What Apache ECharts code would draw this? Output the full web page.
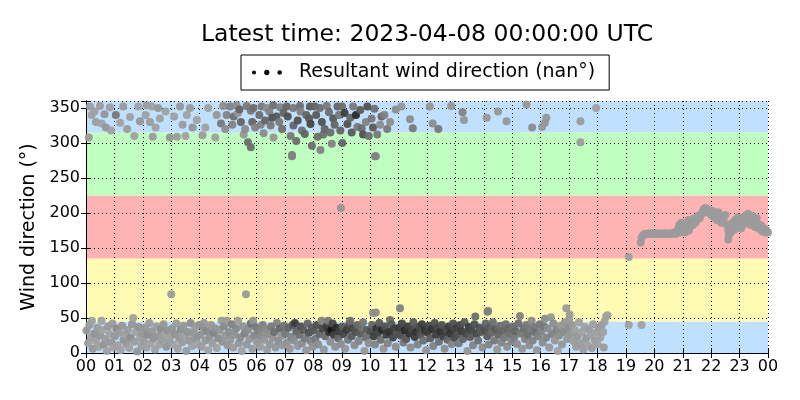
<!DOCTYPE html>
<html><head><meta charset="utf-8">
<script src="https://cdn.jsdelivr.net/npm/echarts@6/dist/echarts.min.js"></script>
<style>html,body{margin:0;padding:0;background:#fff}#c{width:800px;height:400px}</style>
</head><body><div id="c"></div>
<script>
// ---------- text ----------
const titleText = 'Latest time: 2023-04-08 00:00:00 UTC';
const seriesName = 'Resultant wind direction (nan°)';
const yAxisName = 'Wind direction (°)';
// ---------- axes ----------
const xTickLabels = ['00','01','02','03','04','05','06','07','08','09','10','11','12','13','14','15','16','17','18','19','20','21','22','23','00'];
const xRange = [0, 24];
const yRange = [0, 360];
const yStep = 50;
// background direction sectors (deg)
const sectorEdges = [0, 45, 135, 225, 315, 360];
// ---------- data: [hour of day, direction deg, colour value (grey level)] ----------
const lowBandEarly = [
[0.02,32,150],[0.07,14,160],[0.12,40,155],[0.18,22,160],[0.21,46,160],[0.24,6,150],[0.3,28,145],[0.35,17,160],[0.4,36,155],[0.44,9,160],[0.5,25,150],[0.55,46,160],[0.58,33,160],[0.63,12,145],[0.68,20,155],[0.73,3,160],[0.78,38,150],[0.83,27,160],[0.88,15,150],[0.93,42,155],[0.97,8,160],
[1.02,24,150],[1.07,35,140],[1.12,11,160],[1.17,29,155],[1.22,4,160],[1.27,39,150],[1.32,19,145],[1.37,26,160],[1.42,13,150],[1.47,33,155],[1.52,7,160],[1.57,22,140],[1.62,41,150],[1.66,50,160],[1.7,16,155],[1.75,30,160],[1.8,2,150],[1.85,37,145],[1.9,21,160],[1.95,10,155],[1.98,28,150],
[2.03,18,155],[2.08,36,150],[2.13,8,160],[2.18,26,140],[2.23,43,155],[2.28,14,160],[2.33,31,150],[2.38,21,145],[2.43,5,160],[2.48,38,155],[2.53,24,150],[2.58,12,160],[2.63,34,140],[2.68,19,155],[2.73,41,150],[2.78,27,160],[2.83,9,150],[2.88,32,145],[2.93,16,155],[2.97,23,160],
[3.03,35,150],[3.08,12,160],[3.13,27,145],[3.18,42,155],[3.23,6,160],[3.28,21,150],[3.33,33,140],[3.38,15,155],[3.43,39,150],[3.48,25,160],[3.53,3,155],[3.58,30,145],[3.63,18,150],[3.68,43,140],[3.73,10,160],[3.78,28,150],[3.83,36,155],[3.88,20,145],[3.93,13,160],[3.97,40,150],
[4.02,26,145],[4.07,9,155],[4.12,37,140],[4.15,43,150],[4.2,18,150],[4.25,31,135],[4.3,4,160],[4.35,23,145],[4.4,40,150],[4.45,14,155],[4.5,29,130],[4.55,35,145],[4.6,7,160],[4.65,21,140],[4.7,33,150],[4.77,46,155],[4.8,16,145],[4.85,38,135],[4.9,25,150],[4.95,46,155],[4.98,11,150],
[5.03,30,140],[5.08,19,150],[5.13,41,130],[5.18,8,155],[5.23,26,145],[5.28,35,135],[5.35,46,155],[5.38,14,150],[5.43,22,140],[5.48,3,160],[5.53,38,145],[5.58,28,130],[5.65,12,150],[5.7,33,140],[5.75,20,150],[5.8,42,110],[5.85,6,155],[5.88,46,150],[5.92,25,135],[5.97,37,120],
[6.02,16,150],[6.07,31,130],[6.12,9,155],[6.17,24,140],[6.22,40,125],[6.27,19,150],[6.32,34,135],[6.37,5,155],[6.42,27,140],[6.47,13,150],[6.52,38,120],[6.57,22,145],[6.62,30,110],[6.67,8,150],[6.72,43,130],[6.77,17,140],[6.82,35,100],[6.87,25,145],[6.92,11,150],[6.97,39,115],
[7.02,28,120],[7.07,15,145],[7.12,36,100],[7.17,6,150],[7.22,23,130],[7.27,40,90],[7.32,18,140],[7.35,43,60],[7.4,31,100],[7.45,10,150],[7.5,26,110],[7.55,38,80],[7.6,14,140],[7.65,33,90],[7.7,21,120],[7.75,4,150],[7.8,42,100],[7.85,29,80],[7.9,17,130],[7.95,36,90],[7.98,9,145],
[8.02,32,90],[8.07,20,120],[8.12,40,80],[8.17,12,140],[8.22,27,100],[8.29,46,130],[8.32,35,70],[8.37,5,150],[8.42,24,110],[8.47,38,60],[8.52,46,120],[8.55,30,50],[8.6,16,140],[8.64,33,20],[8.68,42,70],[8.72,26,60],[8.77,9,145],[8.82,36,40],[8.87,21,100],[8.92,31,60],[8.97,13,140]
];
const lowBandLate = [
[9.02,38,90],[9.07,27,70],[9.12,6,150],[9.17,33,60],[9.22,19,120],[9.27,42,80],[9.3,46,110],[9.35,24,90],[9.4,35,70],[9.45,11,140],[9.5,30,80],[9.55,40,100],[9.6,17,130],[9.65,28,90],[9.7,36,110],[9.75,44,120],[9.8,3,150],[9.85,22,110],[9.9,33,90],[9.95,14,140],
[10.02,31,80],[10.07,40,100],[10.1,57,140],[10.12,24,60],[10.17,12,130],[10.2,58,140],[10.22,35,50],[10.27,28,70],[10.32,43,90],[10.37,19,110],[10.42,33,40],[10.47,6,150],[10.52,38,80],[10.57,26,60],[10.62,14,130],[10.67,30,50],[10.7,47,110],[10.75,41,90],[10.8,22,70],[10.85,35,60],[10.9,9,140],[10.95,28,80],
[11.02,36,60],[11.05,64,130],[11.07,25,80],[11.12,42,70],[11.17,15,120],[11.22,32,40],[11.27,20,90],[11.32,38,60],[11.37,28,50],[11.42,8,140],[11.47,34,70],[11.52,44,90],[11.57,23,60],[11.62,30,50],[11.67,12,130],[11.72,37,70],[11.77,26,80],[11.82,41,60],[11.87,18,110],[11.92,33,50],[11.97,4,150],
[12.02,29,60],[12.07,39,70],[12.12,21,90],[12.17,34,50],[12.22,10,130],[12.27,43,80],[12.32,26,60],[12.37,36,70],[12.42,16,110],[12.47,31,50],[12.52,40,80],[12.57,24,60],[12.62,6,140],[12.67,33,70],[12.72,19,100],[12.77,38,60],[12.82,28,50],[12.87,13,130],[12.92,42,80],[12.97,22,70],
[13.02,35,60],[13.07,26,80],[13.12,14,120],[13.17,40,70],[13.22,31,60],[13.27,20,100],[13.32,44,90],[13.37,28,70],[13.42,3,150],[13.47,37,60],[13.52,23,90],[13.57,33,70],[13.62,11,130],[13.67,41,80],[13.7,52,110],[13.75,27,70],[13.8,18,110],[13.85,36,80],[13.9,30,90],[13.95,8,140],
[14.02,33,80],[14.07,42,100],[14.12,24,90],[14.13,59,120],[14.15,60,130],[14.17,12,130],[14.22,37,90],[14.27,29,100],[14.32,44,110],[14.37,18,120],[14.42,34,90],[14.47,5,150],[14.52,26,100],[14.57,39,110],[14.62,15,130],[14.67,31,100],[14.72,22,120],[14.77,41,110],[14.82,9,140],[14.87,35,100],[14.92,27,110],[14.97,17,130],
[15.02,38,110],[15.07,23,120],[15.12,31,100],[15.17,13,140],[15.22,42,110],[15.27,53,130],[15.3,28,120],[15.35,6,150],[15.4,35,110],[15.45,20,130],[15.5,40,120],[15.55,26,110],[15.6,11,140],[15.65,33,120],[15.68,46,140],[15.72,18,130],[15.77,37,120],[15.82,29,110],[15.87,4,150],[15.92,24,130],[15.97,41,120],
[16.02,31,130],[16.07,15,140],[16.12,38,120],[16.15,49,140],[16.2,22,130],[16.25,35,140],[16.3,8,150],[16.36,51,150],[16.4,27,130],[16.45,42,140],[16.5,18,150],[16.55,33,130],[16.6,3,160],[16.65,25,140],[16.7,39,150],[16.75,12,150],[16.8,30,140],[16.85,44,150],[16.9,64,155],[16.93,20,150],[16.97,36,140],
[17.0,48,155],[17.02,55,155],[17.05,28,150],[17.1,40,150],[17.15,17,155],[17.2,33,160],[17.25,9,155],[17.3,24,150],[17.35,44,160],[17.4,14,155],[17.45,30,160],[17.5,5,155],[17.55,37,160],[17.6,21,150],[17.65,11,160],[17.7,34,155],[17.75,26,160],[17.8,7,155],[17.85,41,160],[17.9,18,155],[17.95,29,160],
[18.0,13,160],[18.05,36,155],[18.1,22,160],[18.15,40,155],[18.2,30,160],[18.22,8,155],[18.25,45,160],[18.3,52,160],[18.35,54,160]
];
const highBand = [
[0.14,352,160],[0.49,353,155],[0.84,351,160],[0.2,340,160],[0.35,330,155],[0.55,328,160],[0.7,322,150],[0.88,318,160],[0.1,308,155],[0.65,341,150],[0.3,345,160],
[1.05,340,120],[1.31,352,155],[1.2,329,160],[1.45,320,155],[1.55,337,160],[1.84,352,160],[1.7,310,160],[1.9,331,150],
[2.13,354,155],[2.31,352,160],[2.54,350,150],[2.1,340,160],[2.25,330,155],[2.45,322,160],[2.6,335,160],[2.35,309,155],[2.8,345,160],[2.95,308,150],
[3.31,352,150],[3.1,338,160],[3.4,326,155],[3.55,340,160],[3.66,350,155],[3.5,310,160],[3.75,322,150],[3.9,333,160],[3.2,309,155],
[4.1,311,155],[4.3,350,160],[4.83,353,140],[4.6,340,150],[4.75,328,120],[4.9,320,140],[4.55,308,160],[4.95,340,130],[4.2,322,160],
[5.07,352,130],[5.3,354,140],[5.65,353,120],[5.89,350,110],[5.2,338,110],[5.45,330,100],[5.6,320,140],[5.8,346,120],[5.15,326,130],[5.35,343,150],[5.55,312,150],[5.7,301,110],[5.85,330,100],[5.95,322,130],[5.8,294,110],[5.4,348,100],
[6.18,352,120],[6.36,350,140],[6.59,354,110],[6.83,351,130],[6.1,340,110],[6.3,332,100],[6.5,325,120],[6.7,338,90],[6.9,320,110],[6.25,314,140],[6.45,345,130],[6.6,308,150],[6.8,330,120],[6.95,343,100],[6.15,326,130],[6.55,336,80],
[7.06,352,100],[7.29,350,120],[7.53,353,110],[7.88,352,90],[7.1,338,80],[7.3,325,100],[7.45,332,80],[7.6,318,110],[7.75,340,100],[7.9,327,70],[7.2,310,120],[7.4,303,110],[7.55,345,130],[7.7,313,100],[7.25,281,130],[7.95,296,110],[7.85,335,90],
[8.05,352,100],[8.23,350,110],[8.47,353,120],[8.1,340,90],[8.25,290,130],[8.3,330,80],[8.4,320,100],[8.55,344,110],[8.7,335,90],[8.85,352,100],[8.6,315,110],[8.75,326,100],[8.15,309,110],[8.9,340,120],[8.95,318,100],[8.35,312,110],[8.65,299,130],
[9.01,352,110],[9.1,343,60],[9.2,327,80],[9.3,336,100],[9.4,352,120],[9.55,323,120],[9.65,347,90],[9.75,312,80],[9.85,330,130],[9.9,352,80],[9.02,300,100],[9.5,340,40],[9.7,321,110],[9.95,310,110],[9.35,315,90],
[10.05,335,120],[10.15,349,110],[10.2,281,130],[10.25,312,120],[10.35,326,140],[10.5,340,130],[10.6,320,120],[10.7,330,140],[10.9,348,140],[10.1,322,90],[10.4,338,100],
[11.1,352,150],[11.4,334,140],[11.5,321,120],[12.1,352,150],[12.2,328,140],[12.4,320,120],[12.85,353,150],[13.25,344,130],[13.3,333,150],
[14.1,336,150],[14.5,345,150],[14.8,331,150],[15.5,355,150],[15.7,322,140],[16.05,323,150],[16.15,329,150],[16.2,336,150],
[17.4,331,155],[17.4,301,155],[17.95,350,160]
];
const eveningBand = [
[19.52,158,155],[19.55,165,155],[19.6,168,155],[19.65,170,155],[19.7,170,155],[19.75,170,155],[19.8,171,155],[19.85,170,155],[19.9,170,155],[19.95,171,155],[20.0,170,155],[20.05,170,155],[20.1,171,155],[20.15,170,155],[20.2,170,155],[20.25,171,155],[20.3,170,155],[20.35,170,155],[20.4,171,155],[20.45,170,155],[20.5,170,155],[20.55,171,155],[20.6,170,155],[20.65,171,155],[20.7,172,155],[20.75,170,155],[20.8,174,155],[20.85,178,155],[20.88,183,155],[20.9,172,155],[20.95,186,155],
[21.0,176,155],[21.05,182,155],[21.08,172,155],[21.1,178,155],[21.15,185,155],[21.2,190,155],[21.22,175,155],[21.25,180,155],[21.3,188,155],[21.35,183,155],[21.4,192,155],[21.45,186,155],[21.5,190,155],[21.55,196,155],[21.6,193,155],[21.65,198,155],[21.7,202,155],[21.75,206,155],[21.8,207,155],[21.85,201,155],[21.9,205,155],[21.95,200,155],
[22.0,197,155],[22.05,203,155],[22.1,194,155],[22.15,199,155],[22.2,190,155],[22.25,201,155],[22.3,196,155],[22.35,186,155],[22.4,192,155],[22.45,188,155],[22.5,197,155],[22.55,183,155],[22.6,175,155],[22.6,162,155],[22.62,168,155],[22.65,180,155],[22.7,173,155],[22.75,186,155],[22.8,176,155],[22.85,190,155],[22.9,181,155],[22.95,194,155],
[23.0,185,155],[23.05,178,155],[23.1,191,155],[23.15,184,155],[23.2,196,155],[23.25,188,155],[23.3,199,155],[23.35,192,155],[23.4,183,155],[23.45,196,155],[23.5,189,155],[23.55,180,155],[23.6,193,155],[23.65,184,155],[23.7,177,155],[23.75,182,155],[23.8,174,155],[23.85,178,155],[23.9,172,155],[23.95,175,155],[24.0,172,155]
];
const isolatedPoints = [
[3.0,84,155],[5.63,84,155],[7.25,283,130],[8.97,207,150],[10.17,281,130],[19.1,137,160],[19.1,40,160],[19.55,40,160]
];

// ---------- styling ----------
const FONT = 'DejaVu Sans';
const sectorColors = ['#bfe0ff', '#fffbb3', '#ffb3b3', '#bfffbf', '#bfe0ff'];
const greyOf = v => `rgb(${v},${v},${v})`;

const allPoints = [].concat(lowBandEarly, highBand, lowBandLate, isolatedPoints, eveningBand)
  .sort((a, b) => a[0] - b[0]);

const bandAreas = sectorEdges.slice(0, -1).map((lo, i) => [
  { yAxis: lo, itemStyle: { color: sectorColors[i] } },
  { yAxis: sectorEdges[i + 1] }
]);

const baseX = {
  type: 'value', min: xRange[0], max: xRange[1], interval: 1,
  axisLine: { show: true, lineStyle: { color: '#000', width: 1 } },
  axisTick: { show: true, inside: true, length: 5, lineStyle: { color: '#000' } }
};
const baseY = {
  type: 'value', min: yRange[0], max: yRange[1], interval: yStep,
  axisLine: { show: true, lineStyle: { color: '#000', width: 1 } },
  axisTick: { show: true, inside: true, length: 5, lineStyle: { color: '#000' } }
};

const chart = echarts.init(document.getElementById('c'), null, { renderer: 'canvas' });
chart.setOption({
  animation: false,
  backgroundColor: '#fff',
  textStyle: { fontFamily: FONT },
  title: {
    text: titleText, left: 427, top: 23, textAlign: 'center', padding: 0,
    textStyle: { fontFamily: FONT, fontSize: 23.5, fontWeight: 'normal', color: '#000' }
  },
  legend: {
    data: [seriesName], left: 241, top: 55, padding: [7, 14, 7, 11],
    borderColor: '#000', borderWidth: 1, backgroundColor: '#fff', borderRadius: 0,
    itemWidth: 30, itemHeight: 7,
    icon: 'path://M0,3.5a2,2 0 1,0 4,0a2,2 0 1,0 -4,0M12,3.5a2.6,2.6 0 1,0 5.2,0a2.6,2.6 0 1,0 -5.2,0M25,3.5a2.3,2.3 0 1,0 4.6,0a2.3,2.3 0 1,0 -4.6,0',
    itemStyle: { color: '#000' },
    textStyle: { fontFamily: FONT, fontSize: 19, color: '#000', padding: [0, 0, 0, 12], lineHeight: 21 }
  },
  grid: { left: 86, right: 32, top: 101, bottom: 47, containLabel: false },
  xAxis: [
    Object.assign({}, baseX, {
      position: 'bottom',
      axisLabel: { show: true, margin: 6, fontFamily: FONT, fontSize: 16, color: '#000',
        formatter: v => xTickLabels[Math.round(v)] },
      splitLine: { show: true, lineStyle: { color: '#000', width: 1, type: [1, 3] } }
    }),
    Object.assign({}, baseX, {
      position: 'top', axisLabel: { show: false }, splitLine: { show: false }
    })
  ],
  yAxis: [
    Object.assign({}, baseY, {
      position: 'left',
      name: yAxisName, nameLocation: 'middle', nameRotate: 90, nameGap: 47,
      nameTextStyle: { fontFamily: FONT, fontSize: 19, color: '#000' },
      axisLabel: { show: true, margin: 6, fontFamily: FONT, fontSize: 16, color: '#000',
        formatter: v => (v % yStep === 0 ? String(v) : '') },
      splitLine: { show: true, lineStyle: { color: '#000', width: 1, type: [1, 3] } }
    }),
    Object.assign({}, baseY, {
      position: 'right', axisLabel: { show: false }, splitLine: { show: false }
    })
  ],
  series: [
    {
      name: 'sectors', type: 'scatter', data: [], silent: true, z: -1,
      markArea: { silent: true, z: -5, data: bandAreas, label: { show: false } }
    },
    {
      name: seriesName, type: 'scatter', xAxisIndex: 0, yAxisIndex: 0,
      symbol: 'circle', symbolSize: 8, z: 3,
      data: allPoints,
      itemStyle: { color: p => greyOf(p.value[2]), opacity: 0.95 },
      emphasis: { disabled: true }
    }
  ]
});
</script>
</body></html>
